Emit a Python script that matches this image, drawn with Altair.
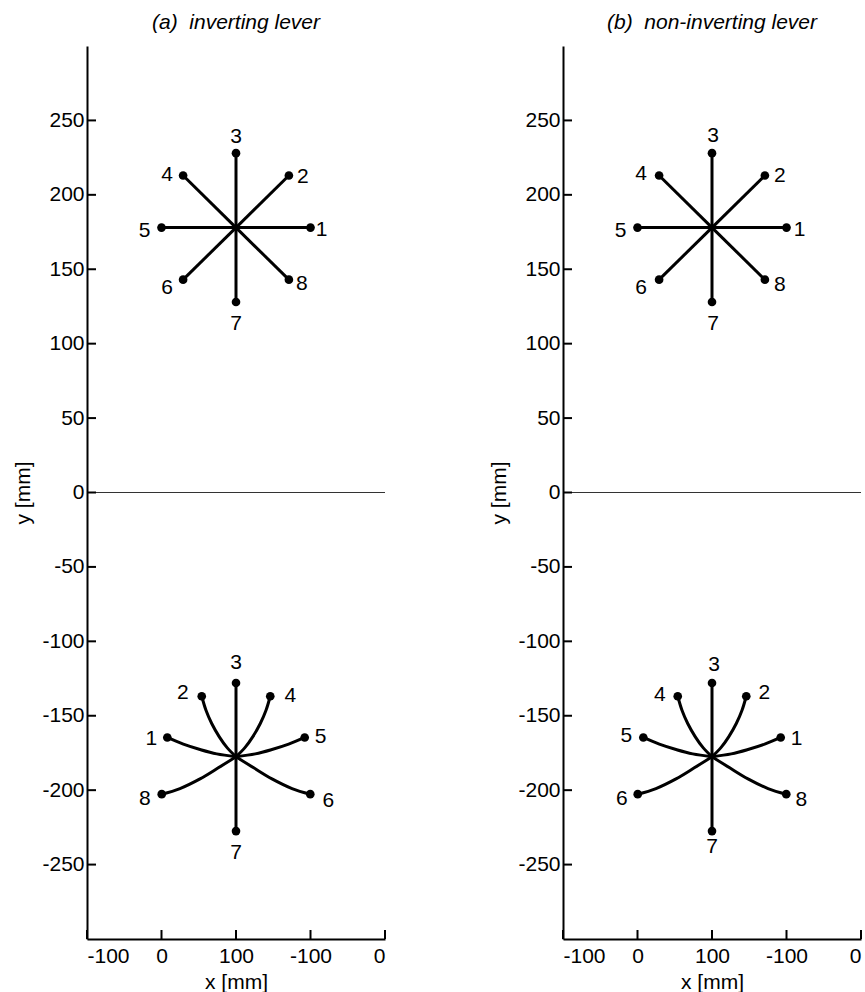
import altair as alt
import pandas as pd

# ---------------- data ----------------
x_tick_values = [-100, 0, 100, 200, 300]
x_tick_labels = ["-100", "0", "100", "-100", "0"]
y_tick_values = [-250, -200, -150, -100, -50, 0, 50, 100, 150, 200, 250]
zero_line_y = [0]

panel_titles = ["(a)\u00a0 inverting lever", "(b)\u00a0 non-inverting lever"]

# upper star: straight spokes from the centre (same in both panels)
upper_center_x = 100
upper_center_y = 178
upper_pos = ["E", "NE", "N", "NW", "W", "SW", "S", "SE"]
upper_end_x = [200, 171, 100, 29, 0, 29, 100, 171]
upper_end_y = [178, 213, 228, 213, 178, 143, 128, 143]
upper_labels = ["1", "2", "3", "4", "5", "6", "7", "8"]

# lower star: curved paths, points read from the centre outward
curve_W_x = [100, 74.1, 51.7, 29.3, 7.8]
curve_W_y = [-177.5, -175.6, -172.7, -169.1, -164.6]
curve_NW_x = [100, 88.3, 77.6, 67.4, 59.7, 54.0]
curve_NW_y = [-177.5, -171.6, -164.2, -155.2, -146.3, -136.9]
curve_N_x = [100, 100]
curve_N_y = [-177.5, -128]
curve_NE_x = [100, 111.7, 122.4, 132.6, 140.3, 146.0]
curve_NE_y = [-177.5, -171.6, -164.2, -155.2, -146.3, -136.9]
curve_E_x = [100, 125.9, 148.3, 170.7, 192.2]
curve_E_y = [-177.5, -175.6, -172.7, -169.1, -164.6]
curve_SE_x = [100, 123.8, 148.3, 175.2, 199.7]
curve_SE_y = [-177.5, -185.0, -192.4, -198.9, -202.7]
curve_S_x = [100, 100]
curve_S_y = [-177.5, -227.5]
curve_SW_x = [100, 76.2, 51.7, 24.8, 0.3]
curve_SW_y = [-177.5, -185.0, -192.4, -198.9, -202.7]

lower_curves = {
    "W": (curve_W_x, curve_W_y), "NW": (curve_NW_x, curve_NW_y),
    "N": (curve_N_x, curve_N_y), "NE": (curve_NE_x, curve_NE_y),
    "E": (curve_E_x, curve_E_y), "SE": (curve_SE_x, curve_SE_y),
    "S": (curve_S_x, curve_S_y), "SW": (curve_SW_x, curve_SW_y),
}
# which curve carries which number in each panel
lower_pos_a = ["W", "NW", "N", "NE", "E", "SE", "S", "SW"]
lower_pos_b = ["E", "NE", "N", "NW", "W", "SW", "S", "SE"]
lower_labels = ["1", "2", "3", "4", "5", "6", "7", "8"]

# ---------------- styling (pixel offsets of the number labels) ----------------
label_offsets = {
    ("a", "up"): {"E": (11, 2), "NE": (14, 2), "N": (0, -16), "NW": (-16, 0),
                  "W": (-17, 3), "SW": (-16, 8), "S": (0, 22), "SE": (13, 4)},
    ("b", "up"): {"E": (13, 2), "NE": (15, 1), "N": (1, -17), "NW": (-18, -1),
                  "W": (-17, 3), "SW": (-18, 8), "S": (1, 22), "SE": (15, 5)},
    ("a", "low"): {"W": (-16, 2), "NW": (-19, -3), "N": (0, -20), "NE": (20, 0),
                   "E": (16, 0), "SE": (18, 7), "S": (0, 22), "SW": (-17, 5)},
    ("b", "low"): {"E": (16, 2), "NE": (18, -3), "N": (2, -18), "NW": (-18, -1),
                   "W": (-17, -1), "SW": (-16, 5), "S": (0, 16), "SE": (15, 6)},
}

FONT = "Liberation Sans"
W, H = 298, 893
LINE_W = 3
TICK_LEN = 9

x_label_expr = " : ".join(
    f"datum.value == {v} ? '{t}'" for v, t in zip(x_tick_values, x_tick_labels)
) + " : ''"


def build_tables(panel):
    line_rows, pt_rows = [], []
    for pos, ex, ey, lab in zip(upper_pos, upper_end_x, upper_end_y, upper_labels):
        gid = f"up_{pos}"
        line_rows.append({"g": gid, "o": 0, "x": upper_center_x, "y": upper_center_y})
        line_rows.append({"g": gid, "o": 1, "x": ex, "y": ey})
        pt_rows.append({"g": gid, "star": "up", "pos": pos, "x": ex, "y": ey, "t": lab})
    plist = lower_pos_a if panel == "a" else lower_pos_b
    for pos, lab in zip(plist, lower_labels):
        xs, ys = lower_curves[pos]
        gid = f"low_{pos}"
        for i, (xv, yv) in enumerate(zip(xs, ys)):
            line_rows.append({"g": gid, "o": i, "x": xv, "y": yv})
        pt_rows.append({"g": gid, "star": "low", "pos": pos, "x": xs[-1], "y": ys[-1], "t": lab})
    return pd.DataFrame(line_rows), pd.DataFrame(pt_rows)


def panel_chart(panel, title):
    lines_df, pts_df = build_tables(panel)
    x_enc = alt.X(
        "x:Q",
        scale=alt.Scale(domain=[-100, 300], nice=False, zero=False),
        axis=alt.Axis(values=x_tick_values, labelExpr=x_label_expr, ticks=False,
                      grid=False, domainColor="black", domainWidth=2,
                      labelFontSize=21, labelFont=FONT, labelColor="black",
                      labelPadding=6, titleFontSize=21, titleFont=FONT,
                      titleFontWeight="normal", titleColor="black", titlePadding=5),
        title="x [mm]",
    )
    y_enc = alt.Y(
        "y:Q",
        scale=alt.Scale(domain=[-300, 300], nice=False, zero=False),
        axis=alt.Axis(values=y_tick_values, labelExpr="datum.value + ''", ticks=False,
                      grid=False, domainColor="black", domainWidth=2,
                      labelFontSize=21, labelFont=FONT, labelColor="black",
                      labelPadding=3, titleFontSize=21, titleFont=FONT,
                      titleFontWeight="normal", titleColor="black", titlePadding=8),
        title="y [mm]",
    )

    zero = alt.Chart(pd.DataFrame({"y": zero_line_y})).mark_rule(
        color="#333333", strokeWidth=1).encode(y=y_enc)

    # inward tick marks
    xt = alt.Chart(pd.DataFrame({"x": x_tick_values})).mark_tick(
        color="black", thickness=2, size=TICK_LEN, opacity=1).encode(
        x=x_enc, y=alt.value(H - TICK_LEN / 2))
    yt = alt.Chart(pd.DataFrame({"y": y_tick_values})).mark_tick(
        color="black", thickness=2, size=TICK_LEN, opacity=1).encode(
        y=y_enc, x=alt.value(TICK_LEN / 2))

    lines = alt.Chart(lines_df).mark_line(
        color="black", strokeWidth=LINE_W, interpolate="cardinal").encode(
        x=x_enc, y=y_enc, detail="g:N", order="o:Q")

    pts = alt.Chart(pts_df).mark_circle(color="black", size=75, opacity=1).encode(
        x=x_enc, y=y_enc)

    texts = []
    for star in ["up", "low"]:
        offs = label_offsets[(panel, star)]
        for pos, (dx, dy) in offs.items():
            texts.append(
                alt.Chart(pts_df).transform_filter(
                    f"datum.star == '{star}' && datum.pos == '{pos}'"
                ).mark_text(fontSize=21, font=FONT, color="black", dx=dx, dy=dy,
                            align="center", baseline="middle").encode(
                    x=x_enc, y=y_enc, text="t:N")
            )

    return alt.layer(zero, xt, yt, lines, pts, *texts).properties(
        width=W, height=H,
        title=alt.TitleParams(text=title, font=FONT, fontSize=21, fontStyle="italic",
                              fontWeight="normal", color="black", anchor="middle",
                              offset=13),
    )


chart = alt.hconcat(
    panel_chart("a", panel_titles[0]),
    panel_chart("b", panel_titles[1]),
    spacing=102,
).properties(
    padding={"left": 12, "top": 12, "right": 0, "bottom": 0},
).configure(font=FONT).configure_view(strokeWidth=0)

chart.save("out.html", embed_options={"renderer": "svg", "actions": False})
